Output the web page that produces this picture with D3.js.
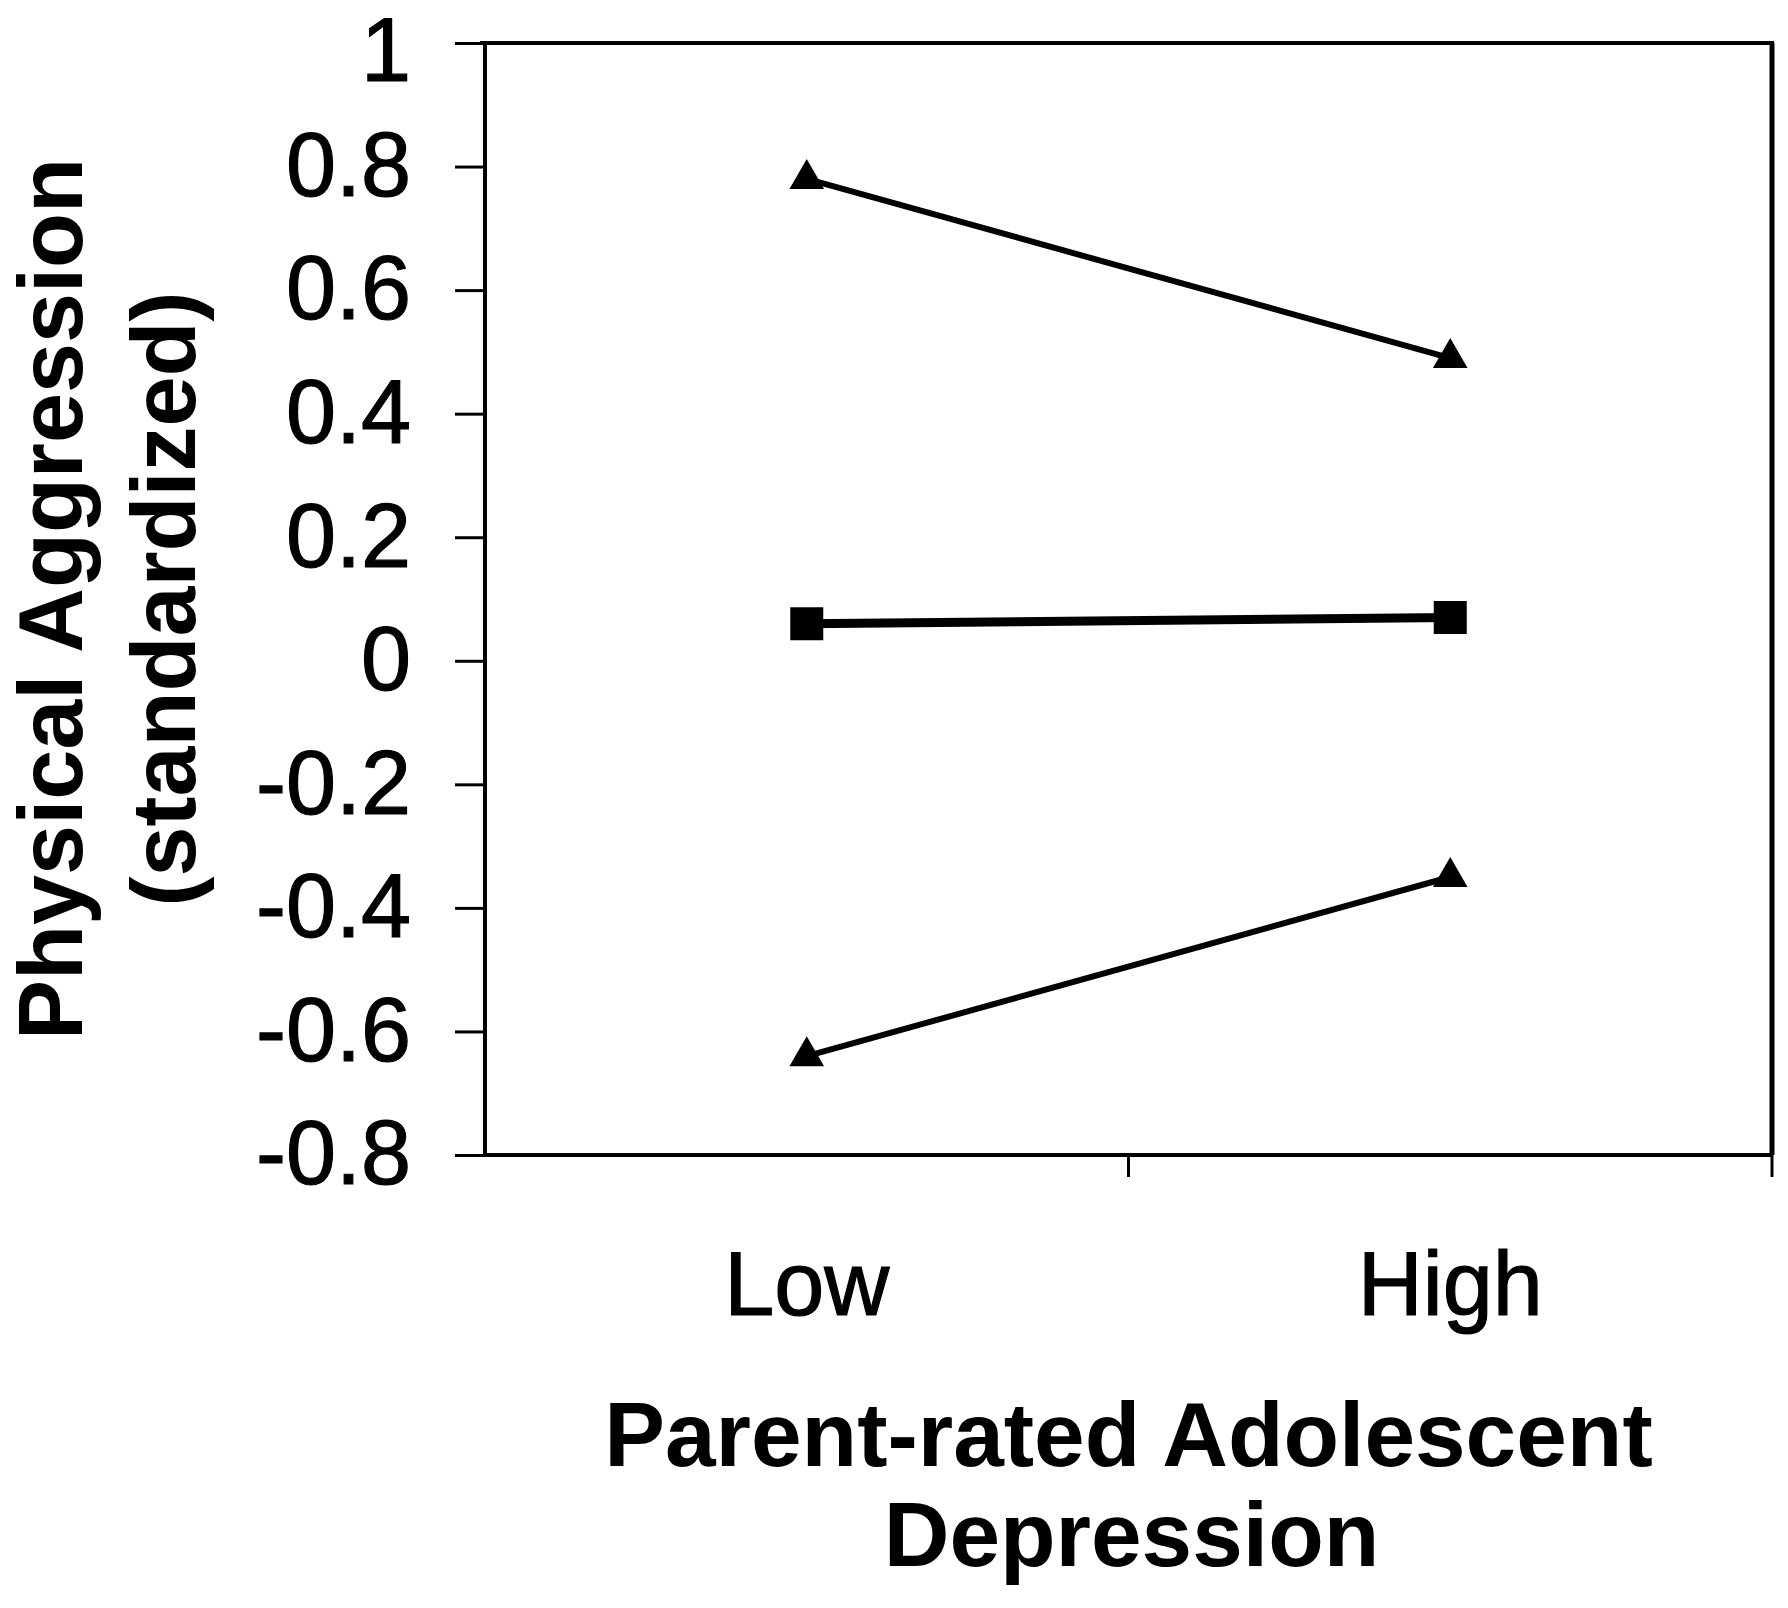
<!DOCTYPE html>
<html>
<head>
<meta charset="utf-8">
<script src="https://cdn.jsdelivr.net/npm/d3@7"></script>
<style>
  body { margin: 0; background: #fff; }
  text { font-family: "Liberation Sans", Arial, sans-serif; fill: #000; }
</style>
</head>
<body>
<div id="chart"></div>
<script>
// data
var categories = ["Low", "High"];
var highSeries = [0.78, 0.49];
var meanSeries = [0.06, 0.07];
var lowSeries = [-0.64, -0.35];
var yTicks = [-0.8, -0.6, -0.4, -0.2, 0, 0.2, 0.4, 0.6, 0.8, 1];
var yTickLabels = ["-0.8", "-0.6", "-0.4", "-0.2", "0", "0.2", "0.4", "0.6", "0.8", "1"];

var width = 1788, height = 1608;
var plot = { left: 485, right: 1772, top: 43, bottom: 1155 };

var svg = d3.select("#chart")
  .append("svg")
  .attr("width", width)
  .attr("height", height);

var x = d3.scaleBand()
  .domain(categories)
  .range([plot.left, plot.right])
  .padding(0);

var y = d3.scaleLinear()
  .domain([-0.8, 1])
  .range([plot.bottom, plot.top]);

// y axis
var yAxis = svg.append("g")
  .attr("transform", "translate(" + plot.left + ",0)")
  .call(d3.axisLeft(y)
    .tickValues(yTicks)
    .tickFormat(function (d, i) { return yTickLabels[i]; })
    .tickSize(30)
    .tickPadding(44));
yAxis.select(".domain").attr("stroke", "#000").attr("stroke-width", 4)
  .attr("d", "M0," + plot.top + "V" + plot.bottom);
yAxis.selectAll(".tick line").attr("stroke", "#000").attr("stroke-width", 3);
yAxis.selectAll(".tick text")
  .style("font-family", "'Liberation Sans', Arial, sans-serif")
  .style("font-size", "90px")
  .attr("fill", "#000")
  .attr("stroke", "#000")
  .attr("stroke-width", 1.2)
  .attr("transform", function (d) { return d === 1 ? "translate(0,9)" : null; });

// frame: top and right
svg.append("line")
  .attr("x1", plot.left - 5).attr("x2", plot.right + 2)
  .attr("y1", plot.top).attr("y2", plot.top)
  .attr("stroke", "#000").attr("stroke-width", 4);
svg.append("line")
  .attr("x1", plot.right).attr("x2", plot.right)
  .attr("y1", plot.top).attr("y2", plot.bottom)
  .attr("stroke", "#000").attr("stroke-width", 5);

// x axis line with ticks on category boundaries
svg.append("line")
  .attr("x1", plot.left).attr("x2", plot.right)
  .attr("y1", plot.bottom).attr("y2", plot.bottom)
  .attr("stroke", "#000").attr("stroke-width", 4);
var edges = categories.slice(1).map(function (c) { return x(c); }).concat([x.range()[1]]);
svg.selectAll("xTicks")
  .data(edges)
  .enter()
  .append("line")
  .attr("x1", function (d) { return d; })
  .attr("x2", function (d) { return d; })
  .attr("y1", plot.bottom)
  .attr("y2", plot.bottom + 22)
  .attr("stroke", "#000")
  .attr("stroke-width", 3);

svg.selectAll("xLabels")
  .data(categories)
  .enter()
  .append("text")
  .attr("x", function (d) { return x(d) + x.bandwidth() / 2; })
  .attr("y", 1315)
  .attr("text-anchor", "middle")
  .attr("stroke", "#000")
  .attr("stroke-width", 1.2)
  .style("font-size", "90px")
  .text(function (d) { return d; });

// series
var cx = function (d, i) { return x(categories[i]) + x.bandwidth() / 2; };
var line = d3.line()
  .x(cx)
  .y(function (d) { return y(d); });

var series = [
  { values: highSeries, symbol: d3.symbolTriangle, size: 520, lw: 6 },
  { values: meanSeries, symbol: d3.symbolSquare, size: 1089, lw: 9 },
  { values: lowSeries, symbol: d3.symbolTriangle, size: 520, lw: 6 }
];

series.forEach(function (s) {
  svg.append("path")
    .datum(s.values)
    .attr("d", line)
    .attr("fill", "none")
    .attr("stroke", "#000")
    .attr("stroke-width", s.lw);
  svg.selectAll(null)
    .data(s.values)
    .enter()
    .append("path")
    .attr("d", d3.symbol().type(s.symbol).size(s.size))
    .attr("transform", function (d, i) { return "translate(" + cx(d, i) + "," + y(d) + ")"; })
    .attr("fill", "#000");
});

// axis titles
var yTitle = svg.append("g");
yTitle.append("text")
  .attr("transform", "translate(82," + (plot.top + plot.bottom) / 2 + ") rotate(-90)")
  .attr("text-anchor", "middle")
  .style("font-size", "90px")
  .style("font-weight", "bold")
  .text("Physical Aggression");
yTitle.append("text")
  .attr("transform", "translate(195," + (plot.top + plot.bottom) / 2 + ") rotate(-90)")
  .attr("text-anchor", "middle")
  .style("font-size", "90px")
  .style("font-weight", "bold")
  .text("(standardized)");

var xTitle = svg.append("text")
  .attr("text-anchor", "middle")
  .style("font-size", "91px")
  .style("font-weight", "bold");
xTitle.append("tspan")
  .attr("x", (plot.left + plot.right) / 2)
  .attr("y", 1466)
  .text("Parent-rated Adolescent");
xTitle.append("tspan")
  .attr("x", (plot.left + plot.right) / 2 + 3)
  .attr("y", 1566)
  .text("Depression");
</script>
</body>
</html>
